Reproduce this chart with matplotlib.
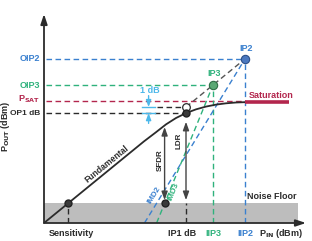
import matplotlib
matplotlib.use("Agg")
import matplotlib.pyplot as plt

# fonts: condensed look
plt.rcParams['font.family'] = ['Liberation Sans Narrow', 'Liberation Sans', 'DejaVu Sans']
plt.rcParams['font.weight'] = 'bold'
plt.rcParams['mathtext.fontset'] = 'custom'
plt.rcParams['mathtext.rm'] = 'Liberation Sans Narrow:bold'

# data (arbitrary dB units)
fund_x = [0, 50, 56, 61, 66, 71, 76, 81, 86, 91, 96, 100.5]
fund_y = [0, 50, 55.6, 60.4, 64.3, 67.3, 69.6, 71.3, 72.5, 73.3, 73.8, 74.0]
sat_x = [100.5, 122.5]
psat = 74.0
noise_floor = 12.0
noise_x_end = 127.0
sensitivity = 12.0
ip1db = 71.0
op1db = 67.3
ip3 = 84.5
ip2 = 100.5
imd3_x = [56.3, ip3]
imd3_y = [0, ip3]
imd2_x = [50.25, ip2]
imd2_y = [0, ip2]
sfdr_x = 60.3
sfdr_top = 58.8
ldr_top = 62.0

blue = '#3a80cf'
green = '#2fb27c'
crimson = '#b3264d'
cyan = '#4cb8ea'
dark = '#2b2b2b'

fig = plt.figure(figsize=(3.12, 2.41), dpi=100)
ax = fig.add_axes([44/312, 18/241, 262/312, 209/241])
ax.set_xlim(0, 131)
ax.set_ylim(0, 128)
ax.axis('off')

# noise floor band
ax.fill_between([0, noise_x_end], 0, noise_floor, color='#bdbdbd', lw=0, zorder=1)

# axes with arrows
arr = dict(arrowstyle='-|>,head_length=0.6,head_width=0.2', color=dark, lw=1.3, shrinkA=0, shrinkB=0)
ax.annotate('', xy=(0, 128), xytext=(0, 0), arrowprops=arr, annotation_clip=False)
ax.annotate('', xy=(131, 0), xytext=(0, 0), arrowprops=arr, annotation_clip=False)

# horizontal reference lines
dash = (0, (4, 2.5))
ax.plot([1, ip2], [ip2, ip2], color=blue, lw=1, ls=dash, zorder=2)
ax.plot([1, ip3], [ip3, ip3], color=green, lw=1, ls=dash, zorder=2)
ax.plot([1, sat_x[0]], [psat + 0.8, psat + 0.8], color=crimson, lw=1, ls=dash, zorder=2)
ax.plot([1, ip1db], [op1db, op1db], color=dark, lw=1, ls=dash, zorder=2)
ax.plot([56.5, ip1db], [ip1db, ip1db], color=dark, lw=1, ls=dash, zorder=2)

# vertical reference lines
ax.plot([ip2, ip2], [0, ip2], color=blue, lw=1, ls=dash, zorder=2)
ax.plot([ip3, ip3], [0, ip3], color=green, lw=1, ls=dash, zorder=2)
ax.plot([ip1db, ip1db], [0, noise_floor], color=dark, lw=1, ls=dash, zorder=2)
ax.plot([sensitivity, sensitivity], [0, noise_floor], color=dark, lw=1, ls=dash, zorder=2)

# IMD lines
ax.plot(imd2_x, imd2_y, color=blue, lw=1, ls=dash, zorder=2)
ax.plot(imd3_x, imd3_y, color=green, lw=1, ls=dash, zorder=2)

# fundamental + extrapolation
ax.plot(fund_x, fund_y, color=dark, lw=1.3, zorder=4)
ax.plot([ip1db, ip2], [ip1db, ip2], color='#555555', lw=1, ls=dash, zorder=3)
ax.plot(sat_x, [psat, psat], color=crimson, lw=2.6, solid_capstyle='butt', zorder=4)

# SFDR and LDR arrows
darr = dict(arrowstyle='<|-|>,head_length=0.5,head_width=0.18', color='#444444', lw=1, shrinkA=0, shrinkB=0)
ax.annotate('', xy=(sfdr_x, sfdr_top), xytext=(sfdr_x, noise_floor + 2), arrowprops=darr)
ax.annotate('', xy=(ip1db, ldr_top), xytext=(ip1db, noise_floor + 2), arrowprops=darr)

# 1 dB marker
ax.plot([49, 55.5], [ip1db, ip1db], color=cyan, lw=1, zorder=3)
ax.plot([49, 55.5], [op1db, op1db], color=cyan, lw=1, zorder=3)
carr = dict(arrowstyle='-|>,head_length=0.4,head_width=0.15', color=cyan, lw=1, shrinkA=0, shrinkB=0)
ax.annotate('', xy=(52.3, ip1db), xytext=(52.3, 78), arrowprops=carr)
ax.annotate('', xy=(52.3, op1db), xytext=(52.3, 61), arrowprops=carr)
ax.text(53, 81, '1 dB', color=cyan, fontsize=6.5, ha='center', va='center')

# markers
ax.plot([ip2], [ip2], 'o', ms=6, mfc='#4a78c0', mec='#2c4f88', mew=0.8, zorder=6)
ax.plot([ip3], [ip3], 'o', ms=6, mfc='#5aa874', mec='#2f6e46', mew=0.8, zorder=6)
ax.plot([ip1db], [ip1db], 'o', ms=5.5, mfc='white', mec=dark, mew=0.9, zorder=6)
ax.plot([ip1db, sensitivity, sfdr_x], [op1db, noise_floor, noise_floor], 'o', ms=5,
        mfc='#3a3a3a', mec='#222222', zorder=6)

# texts
fs = 6.5
ax.text(-2, ip2, 'OIP2', color=blue, fontsize=fs, ha='right', va='center')
ax.text(-2, ip3, 'OIP3', color=green, fontsize=fs, ha='right', va='center')
ax.text(-2, psat + 1.8, r'P$_{\mathrm{SAT}}$', color=crimson, fontsize=fs, ha='right', va='center')
ax.text(-2, op1db, 'OP1 dB', color=dark, fontsize=6, ha='right', va='center')
ax.text(-19, 59, r'P$_{\mathrm{OUT}}$ (dBm)', color=dark, fontsize=fs, rotation=90,
        ha='center', va='center')

ax.text(sensitivity + 1.5, -6.3, 'Sensitivity', color=dark, fontsize=fs, ha='center', va='center')
ax.text(ip1db - 2, -6.3, 'IP1 dB', color=dark, fontsize=fs, ha='center', va='center')
ax.text(ip3, -6.3, 'IIP3', color=green, fontsize=fs, ha='center', va='center')
ax.text(ip2, -6.3, 'IIP2', color=blue, fontsize=fs, ha='center', va='center')
ax.text(118.5, -6.3, r'P$_{\mathrm{IN}}$ (dBm)', color=dark, fontsize=fs, ha='center', va='center')

ax.text(ip2 + 0.5, 107, 'IP2', color=blue, fontsize=fs, ha='center', va='center')
ax.text(ip3 + 0.5, 91.8, 'IP3', color=green, fontsize=fs, ha='center', va='center')
ax.text(102.5, 78.3, 'Saturation', color=crimson, fontsize=fs, ha='left', va='center')
ax.text(114, 16.5, 'Noise Floor', color=dark, fontsize=fs, ha='center', va='center')

ax.text(31.5, 36, 'Fundamental', color=dark, fontsize=6.2, rotation=39, ha='center', va='center')
ax.text(55, 17, 'IMD2', color=blue, fontsize=5.8, rotation=58, ha='center', va='center')
ax.text(65, 19, 'IMD3', color=green, fontsize=5.8, rotation=68, ha='center', va='center')
ax.text(58.3, 38.6, 'SFDR', color=dark, fontsize=5.8, rotation=90, ha='center', va='center')
ax.text(67.3, 50.2, 'LDR', color=dark, fontsize=5.8, rotation=90, ha='center', va='center')

fig.savefig('out.png', dpi=100)
